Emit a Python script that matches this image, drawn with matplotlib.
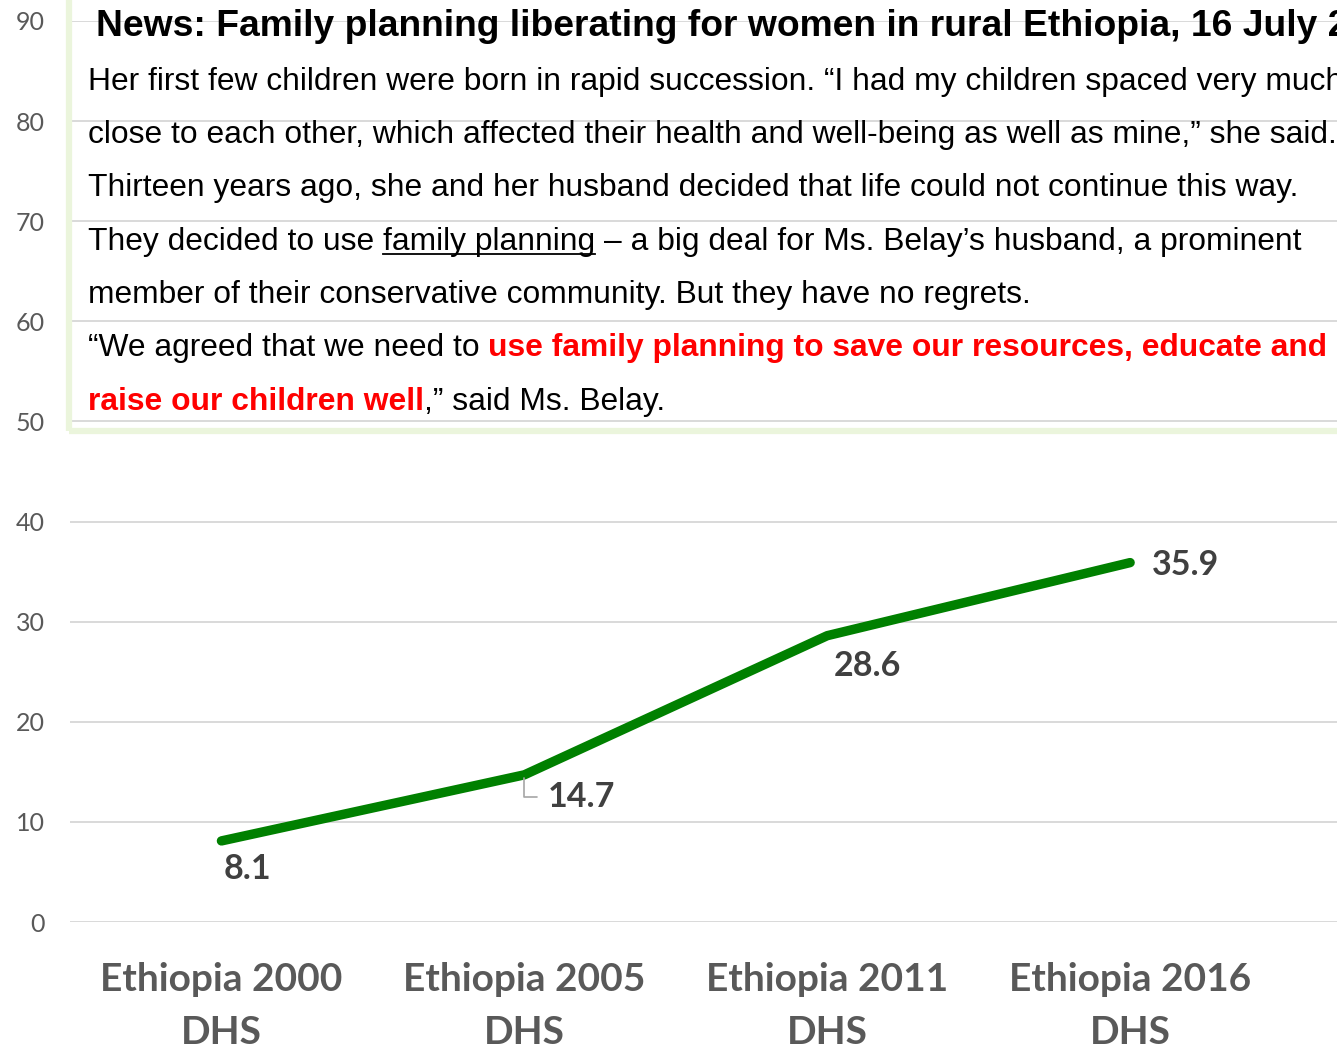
import matplotlib
matplotlib.use("Agg")
import matplotlib.pyplot as plt
from matplotlib.patches import Rectangle

# survey rounds and the share plotted for each
surveys = ["Ethiopia 2000\nDHS", "Ethiopia 2005\nDHS", "Ethiopia 2011\nDHS", "Ethiopia 2016\nDHS"]
values = [8.1, 14.7, 28.6, 35.9]
yticks = [0, 10, 20, 30, 40, 50, 60, 70, 80, 90]

W, H = 1337, 1051
fig = plt.figure(figsize=(W / 100, H / 100), dpi=100)
ax = fig.add_axes([70 / W, 129 / H, 1 - 70 / W, 901 / H])

xs = list(range(len(values)))
ax.plot(xs, values, color="#008000", lw=6.8, solid_capstyle="round", zorder=3)

ax.set_xlim(-0.5, 3.683)
ax.set_ylim(0, 90)
ax.set_yticks(yticks)
ax.grid(axis="y", color="#d9d9d9", lw=1.4)
ax.set_axisbelow(True)
for s in ax.spines.values():
    s.set_visible(False)
ax.tick_params(axis="y", length=0, pad=18, labelsize=18, labelcolor="#595959")
ax.tick_params(axis="x", length=0, pad=29)
ax.set_yticklabels([str(t) for t in yticks], fontfamily="Lato")
ax.set_xticks(xs)
ax.set_xticklabels(surveys, fontfamily="Lato", fontweight="bold", fontsize=28,
                   color="#595959", linespacing=1.62)

# data labels
lab = dict(fontfamily="Lato", fontweight="bold", fontsize=24.5, color="#404040",
           textcoords="offset points", va="center")
ax.annotate(f"{values[0]}", (0, values[0]), xytext=(19, -20), ha="center", **lab)
ax.annotate(f"{values[1]}", (1, values[1]), xytext=(17, -16), ha="left", **lab,
            arrowprops=dict(arrowstyle="-", color="#a6a6a6", lw=1.2,
                            connectionstyle="angle,angleA=0,angleB=90,rad=0",
                            relpos=(0, 0.5), shrinkA=6, shrinkB=2))
ax.annotate(f"{values[2]}", (2, values[2]), xytext=(29, -22), ha="center", **lab)
ax.annotate(f"{values[3]}", (3, values[3]), xytext=(40, -2), ha="center", **lab)

# news box with a light green border
fig.patches.append(Rectangle((69, H - 431), 1400, 600, transform=None,
                             fill=False, ec="#ebf5dc", lw=4.5, zorder=0))

fig.canvas.draw()
renderer = fig.canvas.get_renderer()
body = dict(fontfamily="Liberation Sans", fontsize=22.85)


def px(y):
    return H - y


def space_width(props):
    a = fig.text(0, 0, "x x", **props)
    b = fig.text(0, 0, "xx", **props)
    w = a.get_window_extent(renderer).width - b.get_window_extent(renderer).width
    a.remove()
    b.remove()
    return w


def run_line(y, chunks, x0=88):
    # draws a line made of styled pieces, each piece after the previous one
    x = x0
    for text, style in chunks:
        props = dict(body)
        props.update({k: v for k, v in style.items() if k != "underline"})
        lead = len(text) - len(text.lstrip(" "))
        trail = len(text) - len(text.rstrip(" "))
        sw = space_width(props)
        x += lead * sw
        t = fig.text(x, px(y), text.strip(" "), transform=None, va="baseline",
                     ha="left", **props)
        bb = t.get_window_extent(renderer)
        x = bb.x1 + trail * sw
        if style.get("underline"):
            fig.add_artist(plt.Line2D([bb.x0, bb.x1], [px(y + 4), px(y + 4)],
                                      transform=None, color="black", lw=1.3))


fig.text(96, px(36), "News: Family planning liberating for women in rural Ethiopia, 16 July 2018",
         transform=None, va="baseline", fontfamily="Liberation Sans",
         fontweight="bold", fontsize=26.8)

red = dict(color="#ff0000", fontweight="bold")
run_line(90, [("Her first few children were born in rapid succession. \u201cI had my children spaced very much", {})])
run_line(143, [("close to each other, which affected their health and well-being as well as mine,\u201d she said.", {})])
run_line(196, [("Thirteen years ago, she and her husband decided that life could not continue this way.", {})])
run_line(250, [("They decided to use ", {}), ("family planning", {"underline": True}),
               (" \u2013 a big deal for Ms. Belay\u2019s husband, a prominent", {})])
run_line(303, [("member of their conservative community. But they have no regrets.", {})])
run_line(356, [("\u201cWe agreed that we need to ", {}),
               ("use family planning to save our resources, educate and", red)])
run_line(410, [("raise our children well", red), (",\u201d said Ms. Belay.", {})])

fig.savefig("out.png", dpi=100)
